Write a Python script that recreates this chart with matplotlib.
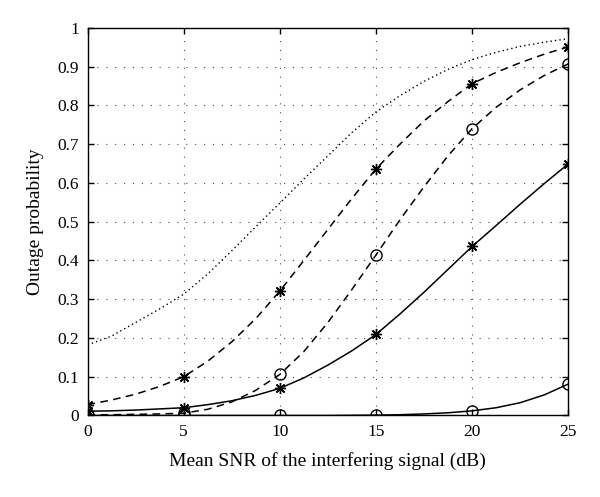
import matplotlib
matplotlib.use("Agg")
import matplotlib.pyplot as plt
import numpy as np

plt.rcParams['font.family'] = ['Liberation Serif', 'DejaVu Serif']

# mean SNR of interfering signal (dB), read every 1.25 dB; markers on every 5 dB
snr = [0, 1.25, 2.5, 3.75, 5, 6.25, 7.5, 8.75, 10, 11.25, 12.5,
       13.75, 15, 16.25, 17.5, 18.75, 20, 21.25, 22.5, 23.75, 25]

dotted_curve = [0.182, 0.205, 0.24, 0.275, 0.313, 0.365, 0.425, 0.487, 0.548, 0.61, 0.67,
                0.73, 0.783, 0.825, 0.862, 0.893, 0.918, 0.937, 0.952, 0.963, 0.972]
dashed_star = [0.028, 0.04, 0.055, 0.075, 0.10, 0.14, 0.19, 0.25, 0.321, 0.40, 0.48,
               0.56, 0.636, 0.70, 0.76, 0.81, 0.856, 0.885, 0.91, 0.932, 0.951]
dashed_circle = [0.002, 0.002, 0.003, 0.004, 0.006, 0.016, 0.035, 0.065, 0.106, 0.165, 0.24,
                 0.325, 0.414, 0.505, 0.59, 0.67, 0.74, 0.795, 0.84, 0.877, 0.907]
solid_star = [0.011, 0.012, 0.014, 0.017, 0.02, 0.028, 0.038, 0.052, 0.07, 0.097, 0.13,
              0.167, 0.209, 0.262, 0.318, 0.377, 0.436, 0.49, 0.545, 0.598, 0.649]
solid_circle = [0.0, 0.0, 0.0, 0.0, 0.0, 0.0, 0.0, 0.0, 0.0, 0.0, 0.0,
                0.0005, 0.001, 0.002, 0.004, 0.007, 0.012, 0.02, 0.033, 0.053, 0.081]

xticks = [0, 5, 10, 15, 20, 25]
yticks = np.arange(0, 1.01, 0.1)
ytick_labels = ["0", "0.1", "0.2", "0.3", "0.4", "0.5", "0.6", "0.7", "0.8", "0.9", "1"]

fig = plt.figure(figsize=(6, 4.97), dpi=100)
ax = fig.add_axes([0.146, 0.164, 0.801, 0.78])

asterisk = (8, 2, 0)
dash = (0, (5, 3.5))

ax.plot(snr, dotted_curve, color="k", lw=1.0, linestyle=(0, (1, 2.2)))
ax.plot(snr, dashed_star, color="k", lw=1.1, linestyle=dash,
        marker=asterisk, markevery=4, ms=8, mew=1.0)
ax.plot(snr, dashed_circle, color="k", lw=1.1, linestyle=dash,
        marker="o", markevery=4, ms=8, mew=1.0, mfc="none")
ax.plot(snr, solid_star, color="k", lw=1.1, linestyle="-",
        marker=asterisk, markevery=4, ms=8, mew=1.0)
ax.plot(snr, solid_circle, color="k", lw=1.1, linestyle="-",
        marker="o", markevery=4, ms=8, mew=1.0, mfc="none")

ax.set_xlim(0, 25)
ax.set_ylim(0, 1)
ax.set_xticks(xticks)
ax.set_yticks(yticks)
ax.set_yticklabels(ytick_labels)
ax.tick_params(direction="in", top=True, right=True, length=4, width=1,
               labelsize=12.5, pad=6)
ax.grid(True, color="k", linestyle=(0, (1, 7)), linewidth=0.8, alpha=0.7)
for s in ax.spines.values():
    s.set_linewidth(1.0)

ax.set_xlabel("Mean SNR of the interfering signal (dB)", fontsize=14, labelpad=9)
ax.set_ylabel("Outage probability", fontsize=14, labelpad=10)

fig.savefig("out.png", dpi=100)
